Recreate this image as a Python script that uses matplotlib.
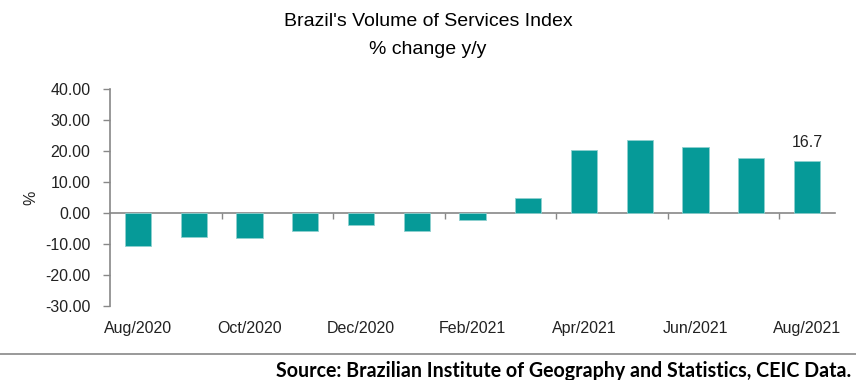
import matplotlib
matplotlib.use("Agg")
import matplotlib.pyplot as plt
from matplotlib.lines import Line2D
import numpy as np

months = ["Aug/2020", "Sep/2020", "Oct/2020", "Nov/2020", "Dec/2020", "Jan/2021",
          "Feb/2021", "Mar/2021", "Apr/2021", "May/2021", "Jun/2021", "Jul/2021", "Aug/2021"]
values = [-10.6, -7.7, -8.2, -5.9, -3.9, -5.9, -2.4, 4.8, 20.3, 23.7, 21.3, 17.8, 16.7]
yticks = [40, 30, 20, 10, 0, -10, -20, -30]

plt.rcParams['font.family'] = ['Liberation Sans', 'DejaVu Sans']

fig = plt.figure(figsize=(8.56, 3.80), dpi=100)
ax = fig.add_axes([0.1285, 0.1947, 0.8470, 0.5711])

x = np.arange(len(months))
color = '#069a98'
ax.bar(x, values, width=0.47, color=color, edgecolor='#8fd0cf', linewidth=0.6, zorder=3)

ymin, ymax = -30, 40
ax.set_ylim(ymin, ymax)
ax.set_xlim(-0.5, len(months) - 0.5)
ax.set_yticks(yticks)
ax.set_yticklabels([f"{v:.2f}" for v in yticks], fontsize=11.5, color='#222222')
ax.tick_params(axis='y', length=5, color='#888888', width=1, pad=9)

# bottom labels every other month
lab_idx = list(range(0, len(months), 2))
ax.set_xticks(lab_idx)
ax.set_xticklabels([months[i] for i in lab_idx], fontsize=11.5, color='#222222')
ax.tick_params(axis='x', length=0, pad=11)

for s in ['top', 'right', 'bottom']:
    ax.spines[s].set_visible(False)
ax.spines['left'].set_color('#888888')
ax.spines['left'].set_linewidth(1.2)

# zero axis with ticks at category boundaries
zero_loc = (0 - ymin) / (ymax - ymin)
sec = ax.secondary_xaxis(zero_loc)
sec.set_xticks(np.arange(1.5, len(months) - 1, 2))
sec.set_xticklabels([])
sec.tick_params(axis='x', direction='out', length=4, color='#888888', width=1)
sec.spines['bottom'].set_color('#888888')
sec.spines['bottom'].set_linewidth(1.2)
sec.spines['top'].set_visible(False)

ax.set_ylabel('%', fontsize=11.5, color='#222222', labelpad=5)

ax.annotate(f"{values[-1]:.1f}", xy=(x[-1], values[-1]), xytext=(0, 8),
            textcoords='offset points', ha='center', va='bottom', fontsize=11.5, color='#222222')

fig.text(0.5, 1 - 22/380, "Brazil's Volume of Services Index", ha='center', va='center', fontsize=14)
fig.text(0.5, 1 - 50/380, "% change y/y", ha='center', va='center', fontsize=14)

fig.add_artist(Line2D([0, 1], [1 - 354/380, 1 - 354/380], transform=fig.transFigure,
                      color='#888888', linewidth=1.2))
fig.text(0.994, 1 - 371/380, "Source: Brazilian Institute of Geography and Statistics, CEIC Data.",
         ha='right', va='center', fontsize=14.1, fontweight='bold', family=['Lato', 'DejaVu Sans'])

fig.savefig('out.png', dpi=100)
